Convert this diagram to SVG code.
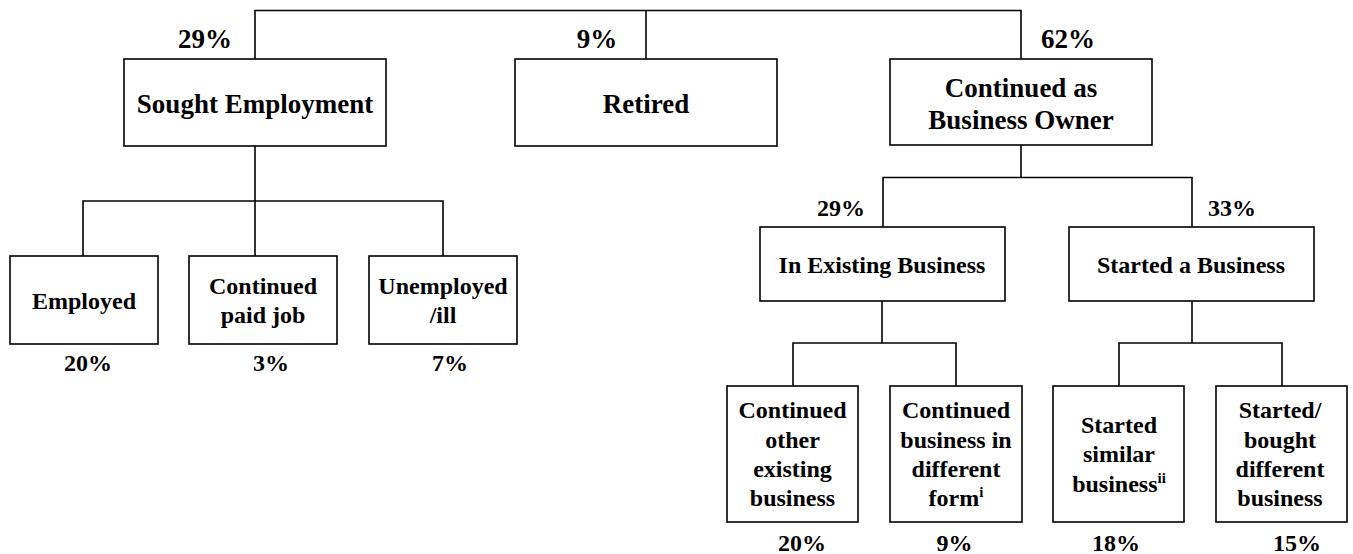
<svg xmlns="http://www.w3.org/2000/svg" width="1353" height="554" viewBox="0 0 1353 554">
<style>
  .box { fill: #fff; stroke: #000; stroke-width: 1.6; }
  .conn { fill: none; stroke: #000; stroke-width: 1.6; }
  text { font-family: "Liberation Serif", "Times New Roman", serif; font-weight: bold; fill: #000; text-anchor: middle; }
  .big { font-size: 27px; }
  .mid { font-size: 24px; }
  .sup { font-size: 15px; }
</style>
<rect width="1353" height="554" fill="#fff"/>
<g id="connectors">
  <path class="conn" d="M255,59 V10.5 H1021 V59"/>
  <path class="conn" d="M646,10.5 V59"/>
  <path class="conn" d="M255,146 V256"/>
  <path class="conn" d="M83,256 V201 H443 V256"/>
  <path class="conn" d="M1021,145 V177.5"/>
  <path class="conn" d="M883,227 V177.5 H1192 V227"/>
  <path class="conn" d="M882,301 V343"/>
  <path class="conn" d="M793,386 V343 H956 V386"/>
  <path class="conn" d="M1192,301 V343"/>
  <path class="conn" d="M1119,386 V343 H1282 V386"/>
</g>
<g id="pct-labels">
  <text class="big" x="205" y="48">29%</text>
  <text class="big" x="597" y="48">9%</text>
  <text class="big" x="1068" y="48">62%</text>
  <text class="mid" x="841" y="216">29%</text>
  <text class="mid" x="1232" y="216">33%</text>
</g>
<g id="sought">
  <rect class="box" x="124" y="59" width="262" height="87"/>
  <text class="big" x="255" y="113">Sought Employment</text>
</g>
<g id="retired">
  <rect class="box" x="515" y="59" width="262" height="87"/>
  <text class="big" x="646" y="113">Retired</text>
</g>
<g id="owner">
  <rect class="box" x="890" y="59" width="262" height="86"/>
  <text class="big" x="1021" y="97">Continued as</text>
  <text class="big" x="1021" y="129">Business Owner</text>
</g>
<g id="employed">
  <rect class="box" x="10" y="256" width="148" height="88"/>
  <text class="mid" x="84" y="309">Employed</text>
  <text class="mid" x="88" y="371">20%</text>
</g>
<g id="paidjob">
  <rect class="box" x="189" y="256" width="148" height="88"/>
  <text class="mid" x="263" y="294">Continued</text>
  <text class="mid" x="263" y="323">paid job</text>
  <text class="mid" x="271" y="371">3%</text>
</g>
<g id="unemployed">
  <rect class="box" x="369" y="256" width="148" height="88"/>
  <text class="mid" x="443" y="294">Unemployed</text>
  <text class="mid" x="443" y="323">/ill</text>
  <text class="mid" x="450" y="371">7%</text>
</g>
<g id="existing">
  <rect class="box" x="760" y="227" width="245" height="74"/>
  <text class="mid" x="882" y="273">In Existing Business</text>
</g>
<g id="started">
  <rect class="box" x="1069" y="227" width="245" height="74"/>
  <text class="mid" x="1191" y="273">Started a Business</text>
</g>
<g id="other-existing">
  <rect class="box" x="727" y="386" width="131" height="136"/>
  <text class="mid" x="792.5" y="418">Continued</text>
  <text class="mid" x="792.5" y="447.5">other</text>
  <text class="mid" x="792.5" y="477">existing</text>
  <text class="mid" x="792.5" y="506">business</text>
  <text class="mid" x="802" y="551">20%</text>
</g>
<g id="different-form">
  <rect class="box" x="890" y="386" width="132" height="136"/>
  <text class="mid" x="956" y="418">Continued</text>
  <text class="mid" x="956" y="447.5">business in</text>
  <text class="mid" x="956" y="477">different</text>
  <text class="mid" x="956" y="506">form<tspan class="sup" dy="-9">i</tspan></text>
  <text class="mid" x="954.5" y="551">9%</text>
</g>
<g id="similar">
  <rect class="box" x="1053" y="386" width="131" height="136"/>
  <text class="mid" x="1119" y="433">Started</text>
  <text class="mid" x="1119" y="462">similar</text>
  <text class="mid" x="1119" y="492">business<tspan class="sup" dy="-9">ii</tspan></text>
  <text class="mid" x="1116" y="551">18%</text>
</g>
<g id="bought-different">
  <rect class="box" x="1216" y="386" width="131" height="136"/>
  <text class="mid" x="1280" y="418">Started/</text>
  <text class="mid" x="1280" y="447.5">bought</text>
  <text class="mid" x="1280" y="477">different</text>
  <text class="mid" x="1280" y="506">business</text>
  <text class="mid" x="1297" y="551">15%</text>
</g>
</svg>
